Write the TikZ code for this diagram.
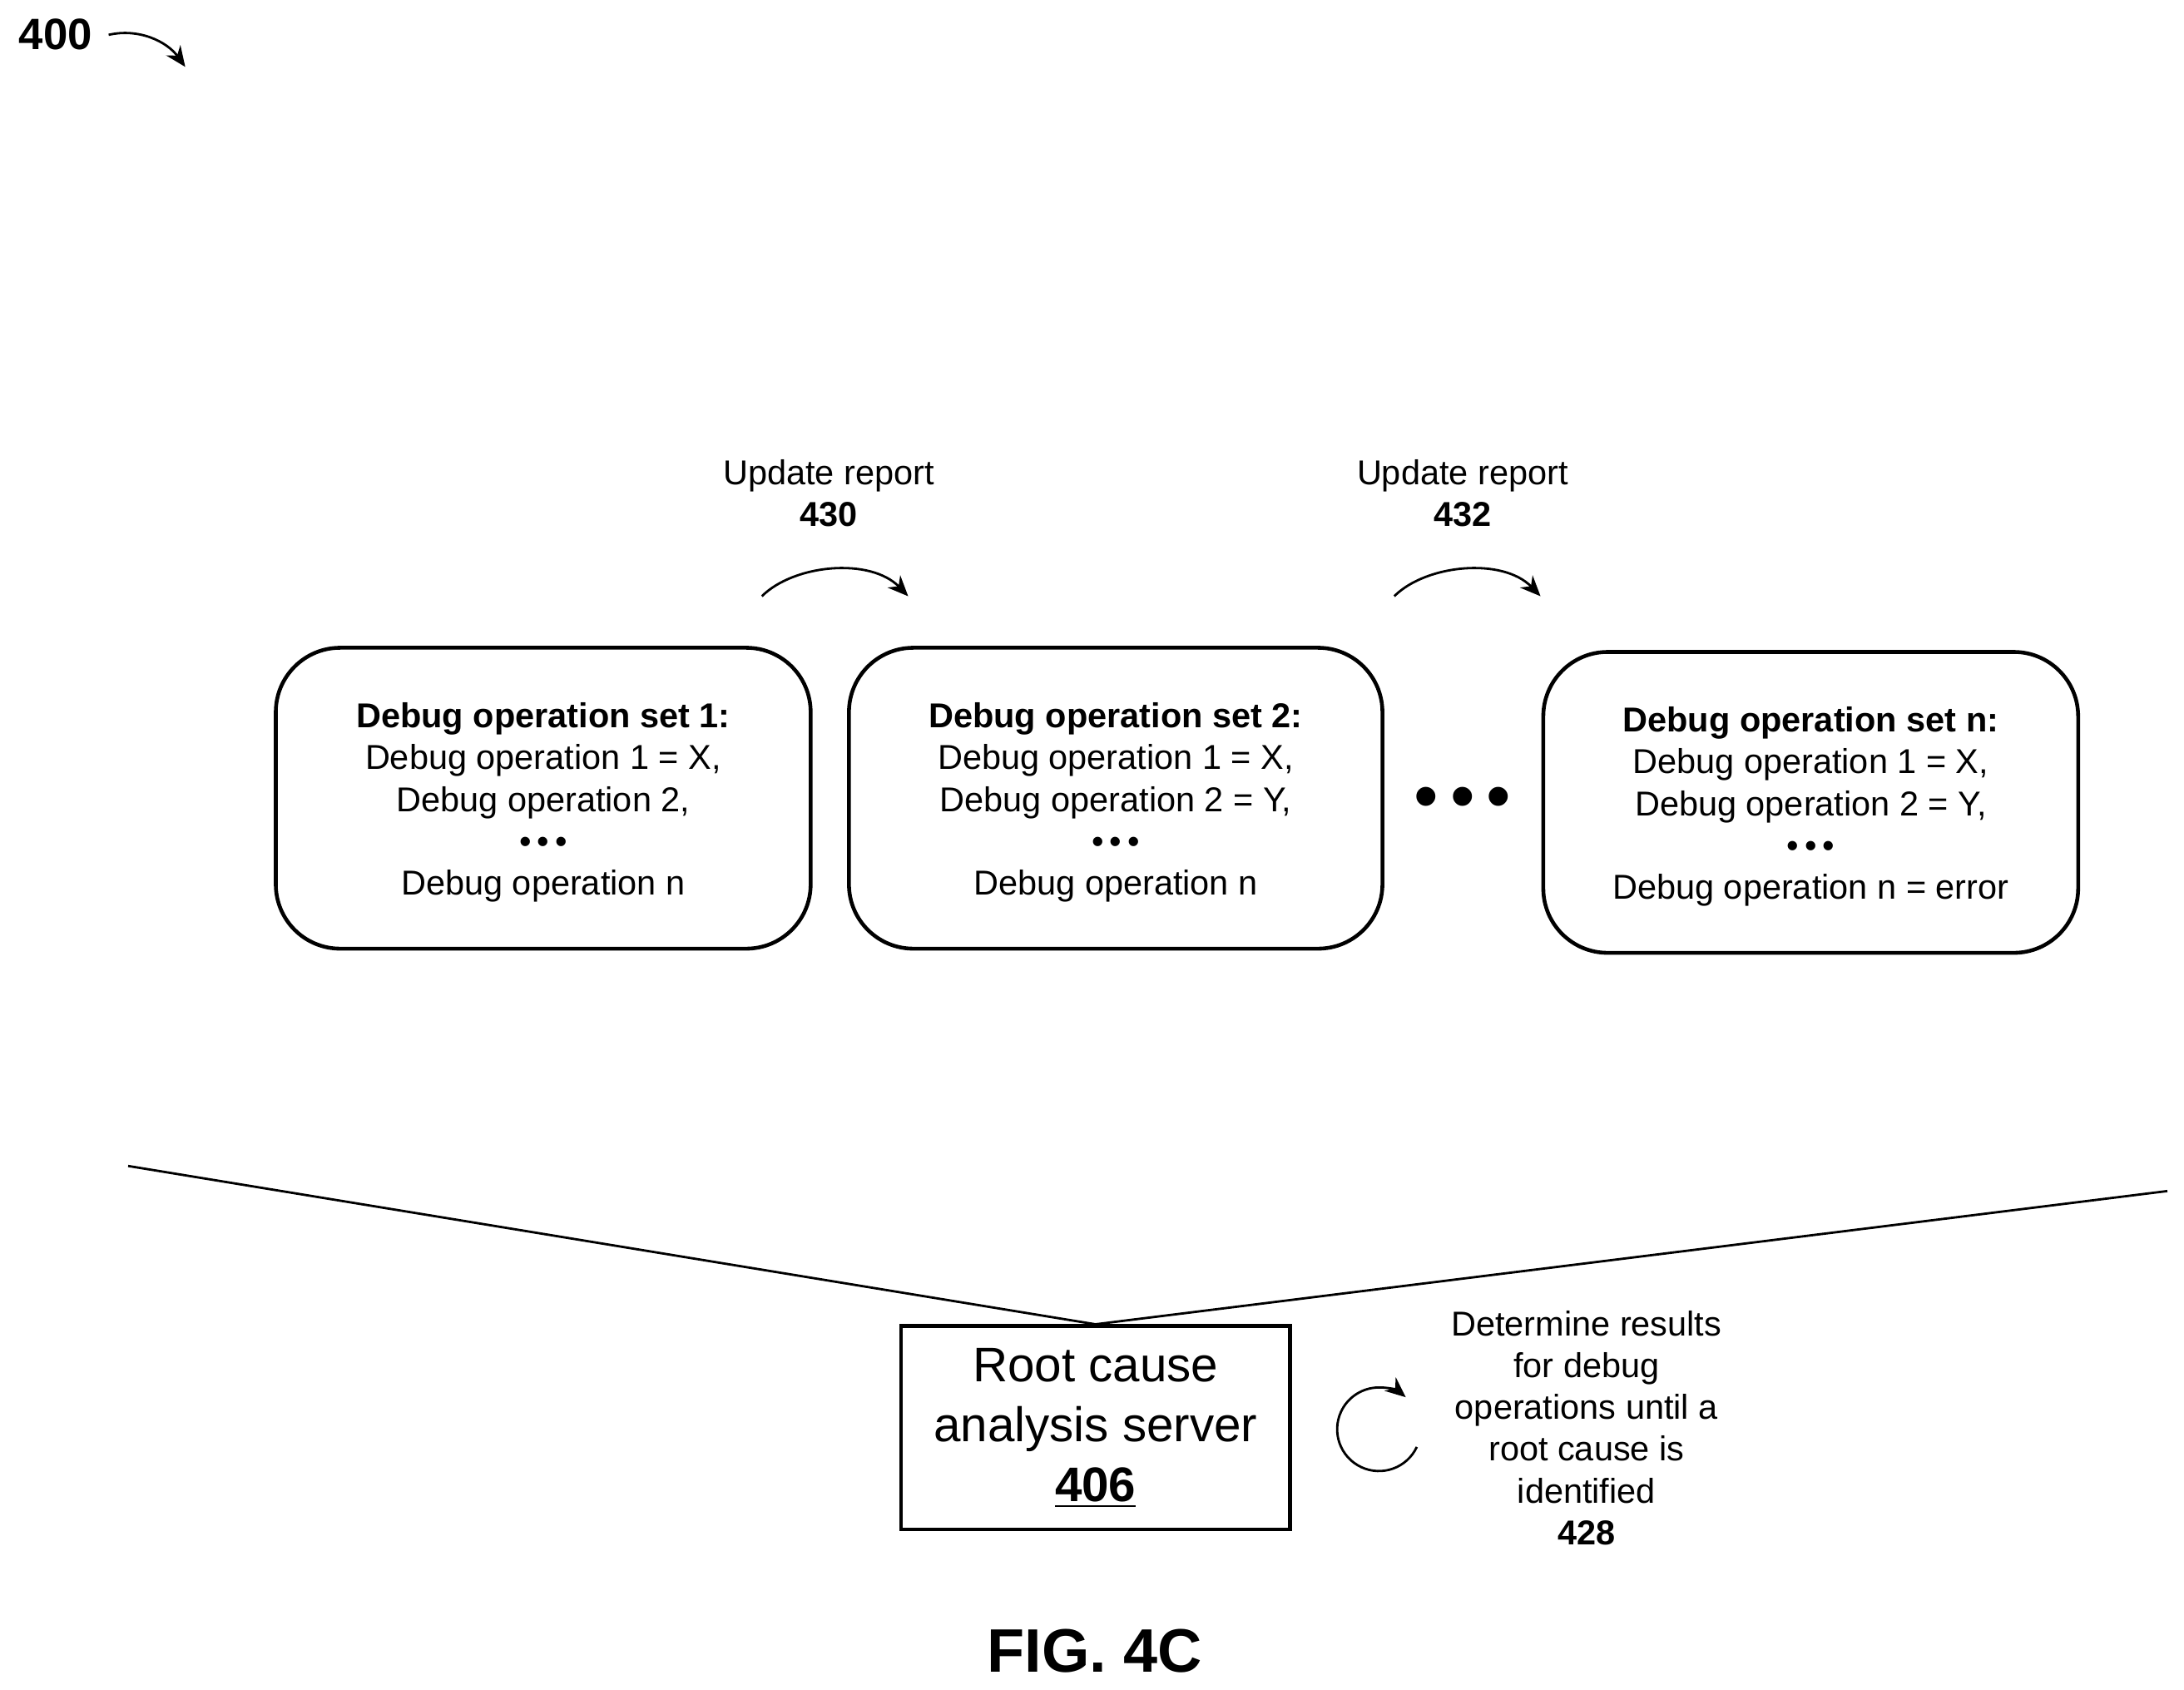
\documentclass[tikz,border=0pt]{standalone}
\usepackage{fontspec}
\setmainfont{Liberation Sans}
\usetikzlibrary{arrows.meta,calc}
\begin{document}
\begin{tikzpicture}[x=0.01674cm,y=-0.01674cm,
 box/.style={draw,line width=1.3pt,rounded corners=22pt},
 txt/.style={font=\fontsize{11.8}{14.3}\selectfont,align=center},
 arr/.style={-{Stealth[length=7pt,width=6pt]},line width=0.8pt}]
\useasboundingbox (0,0) rectangle (1568,1213);
\node[box,minimum width=384*0.01674cm,minimum height=216*0.01674cm] (b1) at (390,573) {};
\node[box,minimum width=383*0.01674cm,minimum height=216*0.01674cm] (b2) at (801,573) {};
\node[box,minimum width=384*0.01674cm,minimum height=216*0.01674cm] (b3) at (1300,576) {};
\node[txt] (t1) at (390,576) {\textbf{Debug operation set 1:}\\Debug operation 1 = X,\\Debug operation 2,\\\textbullet\,\textbullet\,\textbullet\\Debug operation n};
\node[txt] (t2) at (801,576) {\textbf{Debug operation set 2:}\\Debug operation 1 = X,\\Debug operation 2 = Y,\\\textbullet\,\textbullet\,\textbullet\\Debug operation n};
\node[txt] (t3) at (1300,579) {\textbf{Debug operation set n:}\\Debug operation 1 = X,\\Debug operation 2 = Y,\\\textbullet\,\textbullet\,\textbullet\\Debug operation n = error};
\node[font=\fontsize{24}{24}\selectfont] (dots) at (1050,577) {\textbullet\,\textbullet\,\textbullet};
\node[txt] (u1) at (595,354) {Update report\\\textbf{430}};
\node[txt] (u2) at (1050,354) {Update report\\\textbf{432}};
\coordinate (a1s) at (547,428); \coordinate (a1e) at (652,428);
\coordinate (a2s) at (1001,428); \coordinate (a2e) at (1106,428);
\draw[arr] (a1s) .. controls (570,405) and (625,400) .. (a1e);
\draw[arr] (a2s) .. controls (1024,405) and (1079,400) .. (a2e);
\node[draw,line width=1.3pt,minimum width=279*0.01674cm,minimum height=146*0.01674cm,align=center,font=\fontsize{16.6}{20.5}\selectfont] (srv) at (786.5,1025) {Root cause\\analysis server\\\underline{\textbf{406}}};
\coordinate (l1) at (92,837); \coordinate (l2) at (1556,855);
\draw[line width=0.8pt] (l1) -- (srv.north) -- (l2);
\coordinate (cc) at (990,1026);
\draw[arr] ($(cc)+(25:30)$) arc (25:310:30);
\node[txt] (d) at (1139,1025) {Determine results\\for debug\\operations until a\\root cause is\\identified\\\textbf{428}};
\node[font=\fontsize{15}{15}\selectfont\bfseries] (n400) at (40,25) {400};
\coordinate (a400) at (133,48);
\draw[arr] (78,25) .. controls (100,20) and (120,30) .. (a400);
\node[font=\fontsize{21}{21}\selectfont\bfseries] (fig) at (786,1185) {FIG. 4C};
\end{tikzpicture}
\end{document}
